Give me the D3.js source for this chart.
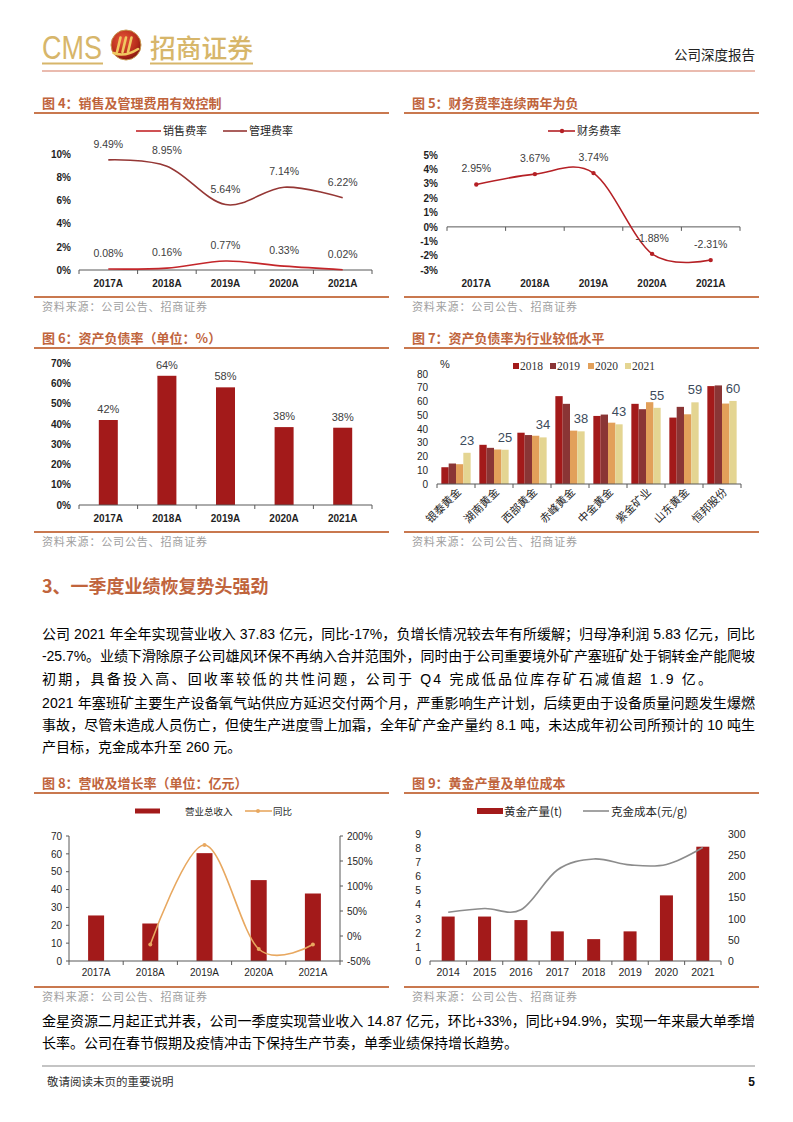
<!DOCTYPE html>
<html><head><meta charset="utf-8">
<script src="https://cdn.jsdelivr.net/npm/d3@7"></script>
<style>body{margin:0;background:#fff}svg{display:block}</style>
</head><body>
<script>
// ---------------- DATA ----------------
const years5 = ["2017A","2018A","2019A","2020A","2021A"];
const salesRate = [0.08,0.16,0.77,0.33,0.02];
const adminRate = [9.49,8.95,5.64,7.14,6.22];
const ticks4 = [0,2,4,6,8,10];

const finRate = [2.95,3.67,3.74,-1.88,-2.31];
const ticks5 = [-3,-2,-1,0,1,2,3,4,5];

const debtRatio = [41.9,63.7,58.0,38.4,38.1];
const ticks6 = [0,10,20,30,40,50,60,70];

const peers = ["银泰黄金","湖南黄金","西部黄金","赤峰黄金","中金黄金","紫金矿业","山东黄金","恒邦股份"];
const peerYears = ["2018","2019","2020","2021"];
const peer2018 = [12.2,28.5,37.3,63.9,49.5,58.3,48.3,71.2];
const peer2019 = [14.9,26.3,35.6,58.3,50.5,54.4,56.1,71.7];
const peer2020 = [14.4,25.1,35.1,38.8,44.6,59.5,50.7,58.5];
const peer2021 = [22.7,24.9,33.9,38.3,43.4,55.4,59.4,60.4];
const ticks7 = [0,10,20,30,40,50,60,70,80];

const revenue = [25.5,21.0,60.4,45.3,37.8];
const revenueYoY = [null,-17,182,-26,-17];
const ticks8L = [0,10,20,30,40,50,60,70];
const ticks8R = [-50,0,50,100,150,200];

const goldYears = ["2014","2015","2016","2017","2018","2019","2020","2021"];
const goldOutput = [3.15,3.15,2.9,2.1,1.55,2.1,4.65,8.1];
const goldCost = [115,124,121,215,241,227,228,268];
const ticks9L = [0,1,2,3,4,5,6,7,8,9];
const ticks9R = [0,50,100,150,200,250,300];

const para1 = [
  "公司 2021 年全年实现营业收入 37.83 亿元，同比-17%，负增长情况较去年有所缓解；归母净利润 5.83 亿元，同比",
  "-25.7%。业绩下滑除原子公司雄风环保不再纳入合并范围外，同时由于公司重要境外矿产塞班矿处于铜转金产能爬坡",
  "初期，具备投入高、回收率较低的共性问题，公司于 Q4 完成低品位库存矿石减值超 1.9 亿。"
];
const para2 = [
  "2021 年塞班矿主要生产设备氧气站供应方延迟交付两个月，严重影响生产计划，后续更由于设备质量问题发生爆燃",
  "事故，尽管未造成人员伤亡，但使生产进度雪上加霜，全年矿产金产量约 8.1 吨，未达成年初公司所预计的 10 吨生",
  "产目标，克金成本升至 260 元。"
];
const para3 = [
  "金星资源二月起正式并表，公司一季度实现营业收入 14.87 亿元，环比+33%，同比+94.9%，实现一年来最大单季增",
  "长率。公司在春节假期及疫情冲击下保持生产节奏，单季业绩保持增长趋势。"
];

// ---------------- SETUP ----------------
const W=793,H=1122;
const svg=d3.select("body").append("svg").attr("width",W).attr("height",H);
const LAT="'Liberation Sans', Arial, 'Noto Sans CJK SC', sans-serif";
const CJK="'Noto Sans CJK SC', 'Liberation Sans', sans-serif";
const SERIF="'Liberation Serif', 'Times New Roman', 'Noto Sans CJK SC', serif";
const TITLE_C="#c0643c", RULE_C="#c9784f", BAR_C="#a31a1a", TXT="#1f1f1f", AX="#595959";
const GOLD="#d7b66a";

function txt(g,x,y,s,o={}){
  const t=g.append("text").attr("x",x).attr("y",y).text(s)
    .attr("font-family",o.ff||LAT).attr("font-size",o.fs||10)
    .attr("fill",o.fill||TXT).attr("text-anchor",o.anchor||"start");
  if(o.fw) t.attr("font-weight",o.fw);
  if(o.tl) t.attr("textLength",o.tl).attr("lengthAdjust",o.la||"spacing");
  return t;
}
function hline(g,x1,x2,y,c,w){g.append("line").attr("x1",x1).attr("x2",x2).attr("y1",y).attr("y2",y).attr("stroke",c).attr("stroke-width",w);}
function chartFrame(x0,x1,ytitle,title,ysrc){
  txt(svg,x0+8,ytitle-5,title,{ff:CJK,fs:13,fw:700,fill:TITLE_C});
  hline(svg,x0,x1,ytitle,RULE_C,2);
  hline(svg,x0,x1,ysrc,RULE_C,2);
  txt(svg,x0+8,ysrc+13.5,"资料来源：公司公告、招商证券",{ff:CJK,fs:11,fill:"#a0a0a0",tl:165});
}
function xAxisLine(g,band,y,tick){
  const [a,b]=band.range();
  hline(g,a,b,y,AX,1);
  const bounds=band.domain().map(d=>band(d)).concat([b]);
  g.selectAll(null).data(bounds).join("line")
   .attr("x1",d=>d).attr("x2",d=>d).attr("y1",y).attr("y2",y+tick).attr("stroke",AX);
}
function xLabels(g,band,y,fs,fw){
  g.selectAll(null).data(band.domain()).join("text")
   .attr("x",d=>band(d)+band.bandwidth()/2).attr("y",y).text(d=>d)
   .attr("text-anchor","middle").attr("font-family",LAT).attr("font-size",fs)
   .attr("font-weight",fw||"normal").attr("fill",TXT);
}
function yAxis(g,scale,x,ticks,fmt,side,fs,fw){
  const ax=(side==="left"?d3.axisLeft(scale):d3.axisRight(scale)).tickValues(ticks).tickFormat(fmt).tickSize(0).tickPadding(0);
  const a=g.append("g").attr("transform",`translate(${x},0)`).call(ax);
  a.select(".domain").remove();
  a.selectAll("text").attr("font-family",LAT).attr("font-size",fs).attr("font-weight",fw||"normal").attr("fill",TXT);
}
const smooth=d3.curveCardinal.tension(0);

// ---------------- HEADER ----------------
const defs=svg.append("defs");
const rg=defs.append("radialGradient").attr("id","lg").attr("cx","40%").attr("cy","35%").attr("r","70%");
rg.append("stop").attr("offset","0%").attr("stop-color","#e8583a");
rg.append("stop").attr("offset","70%").attr("stop-color","#b52a1a");
rg.append("stop").attr("offset","100%").attr("stop-color","#7a1410");
txt(svg,42,59,"CMS",{ff:"'Liberation Sans Narrow','Liberation Sans',sans-serif",fs:33,fill:GOLD,tl:60,la:"spacingAndGlyphs"});
svg.append("circle").attr("cx",126).attr("cy",45).attr("r",15).attr("fill","url(#lg)").attr("stroke","#c89a50").attr("stroke-width",1);
svg.append("path").attr("d","M117,52 L120.5,37.5 M122.5,52 L126,37.5 M128,52 L131.5,37.5 M113.5,53 Q125,57.5 138,49")
   .attr("stroke","#f0c860").attr("stroke-width",2.6).attr("fill","none").attr("stroke-linecap","round");
txt(svg,150,58,"招商证券",{ff:CJK,fs:26,fw:500,fill:GOLD,tl:103,la:"spacingAndGlyphs"});
hline(svg,42,103,63.5,GOLD,2);
hline(svg,150,253,63.5,GOLD,2);
txt(svg,755,60,"公司深度报告",{ff:CJK,fs:13.5,fill:"#222",anchor:"end"});
hline(svg,42,755,71,"#e3a595",1.6);

// ---------------- CHART 4 ----------------
chartFrame(34,389,113,"图 4：销售及管理费用有效控制",297);
{
  const g=svg.append("g");
  const x=d3.scaleBand().domain(years5).range([79,372]);
  const y=d3.scaleLinear().domain([0,10]).range([270,154]);
  const cx=c=>x(c)+x.bandwidth()/2;
  yAxis(g,y,71,ticks4,d=>d+"%","left",10,"bold");
  xAxisLine(g,x,270,4);
  xLabels(g,x,287,10,"bold");
  const SALES="#c4262a", ADMIN="#953735";
  const line=d3.line().x((d,i)=>cx(years5[i])).y(d=>y(d)).curve(smooth);
  g.append("path").attr("d",line(adminRate)).attr("fill","none").attr("stroke",ADMIN).attr("stroke-width",1.6);
  g.append("path").attr("d",line(salesRate)).attr("fill","none").attr("stroke",SALES).attr("stroke-width",1.6);
  [adminRate,salesRate].forEach(arr=>{
    g.selectAll(null).data(arr).join("text").attr("x",(d,i)=>cx(years5[i])).attr("y",d=>y(d)-12)
     .text(d=>d.toFixed(2)+"%").attr("text-anchor","middle").attr("font-family",LAT).attr("font-size",10.5).attr("fill","#404040");
  });
  // legend
  hline(g,136,161,131,SALES,1.6); txt(g,163,135,"销售费率",{ff:CJK,fs:11});
  hline(g,223,247,131,ADMIN,1.6); txt(g,249,135,"管理费率",{ff:CJK,fs:11});
}

// ---------------- CHART 5 ----------------
chartFrame(404,759,113,"图 5：财务费率连续两年为负",297);
{
  const g=svg.append("g");
  const x=d3.scaleBand().domain(years5).range([447,740]);
  const y=d3.scaleLinear().domain([-3,5]).range([270,155]);
  const cx=c=>x(c)+x.bandwidth()/2;
  yAxis(g,y,438,ticks5,d=>d+"%","left",10,"bold");
  xAxisLine(g,x,y(0),4);
  xLabels(g,x,287,10,"bold");
  const C="#b52025";
  const line=d3.line().x((d,i)=>cx(years5[i])).y(d=>y(d)).curve(smooth);
  g.append("path").attr("d",line(finRate)).attr("fill","none").attr("stroke",C).attr("stroke-width",1.6);
  g.selectAll(null).data(finRate).join("circle").attr("cx",(d,i)=>cx(years5[i])).attr("cy",d=>y(d)).attr("r",2.2).attr("fill",C);
  g.selectAll(null).data(finRate).join("text").attr("x",(d,i)=>cx(years5[i])).attr("y",d=>y(d)-12)
   .text(d=>d.toFixed(2)+"%").attr("text-anchor","middle").attr("font-family",LAT).attr("font-size",10.5).attr("fill","#404040");
  hline(g,548,575,131,C,1.6);
  g.append("circle").attr("cx",562).attr("cy",131).attr("r",2.2).attr("fill",C);
  txt(g,577,135,"财务费率",{ff:CJK,fs:11});
}

// ---------------- CHART 6 ----------------
chartFrame(34,389,348,"图 6：资产负债率（单位：%）",532);
{
  const g=svg.append("g");
  const x=d3.scaleBand().domain(years5).range([79,372]);
  const y=d3.scaleLinear().domain([0,70]).range([505,363]);
  const cx=c=>x(c)+x.bandwidth()/2;
  yAxis(g,y,71,ticks6,d=>d+"%","left",10,"bold");
  const bw=19;
  g.selectAll(null).data(debtRatio).join("rect").attr("x",(d,i)=>cx(years5[i])-bw/2).attr("width",bw)
   .attr("y",d=>y(d)).attr("height",d=>y(0)-y(d)).attr("fill",BAR_C);
  xAxisLine(g,x,505,4);
  xLabels(g,x,522,10,"bold");
  g.selectAll(null).data(debtRatio).join("text").attr("x",(d,i)=>cx(years5[i])).attr("y",d=>y(d)-7)
   .text(d=>Math.round(d)+"%").attr("text-anchor","middle").attr("font-family",LAT).attr("font-size",11).attr("fill","#404040");
}

// ---------------- CHART 7 ----------------
chartFrame(404,759,348,"图 7：资产负债率为行业较低水平",532);
{
  const g=svg.append("g");
  const xg=d3.scaleBand().domain(peers).range([437,741]);
  const inner=29.3;
  const xi=d3.scaleBand().domain(peerYears).range([0,inner]);
  const y=d3.scaleLinear().domain([0,80]).range([484,374]);
  const colors=d3.scaleOrdinal().domain(peerYears).range(["#a31a1a","#8a3535","#e2a05a","#e4d592"]);
  const series=[peer2018,peer2019,peer2020,peer2021];
  yAxis(g,y,428,ticks7,d=>d,"left",10,"normal");
  txt(g,440,368,"%",{fs:11});
  series.forEach((arr,k)=>{
    const yr=peerYears[k];
    g.selectAll(null).data(arr).join("rect")
     .attr("x",(d,i)=>xg(peers[i])+(xg.bandwidth()-inner)/2+xi(yr)).attr("width",xi.bandwidth())
     .attr("y",d=>y(d)).attr("height",d=>y(0)-y(d)).attr("fill",colors(yr));
  });
  g.selectAll(null).data(peer2021).join("text")
   .attr("x",(d,i)=>xg(peers[i])+(xg.bandwidth()-inner)/2+xi("2021")+xi.bandwidth()/2).attr("y",d=>y(d)-8)
   .text(d=>Math.round(d)).attr("text-anchor","middle").attr("font-family",LAT).attr("font-size",13).attr("fill","#3d4b5c");
  xAxisLine(g,xg,484,4);
  g.selectAll(null).data(peers).join("text").text(d=>d)
   .attr("transform",d=>`translate(${xg(d)+xg.bandwidth()/2+3},${490}) rotate(-45)`)
   .attr("text-anchor","end").attr("dy","0.35em").attr("font-family",CJK).attr("font-size",11).attr("fill",TXT);
  const lx=[513,550,588,625];
  peerYears.forEach((yr,k)=>{
    g.append("rect").attr("x",lx[k]).attr("y",363).attr("width",6).attr("height",6).attr("fill",colors(yr));
    txt(g,lx[k]+7,370,yr,{ff:SERIF,fs:11.5,fill:"#333"});
  });
}

// ---------------- SECTION TEXT ----------------
txt(svg,42,593,"3、一季度业绩恢复势头强劲",{ff:CJK,fs:18,fw:700,fill:TITLE_C});
const PF="'Liberation Sans','Noto Sans CJK SC',sans-serif";
const p1w=[713,713,670], p1y=[639,661,684];
para1.forEach((s,i)=>txt(svg,42,p1y[i],s,{ff:PF,fs:14,fill:"#000",tl:p1w[i]}));
const p2w=[713,713,null], p2y=[708,730,752];
para2.forEach((s,i)=>txt(svg,42,p2y[i],s,{ff:PF,fs:14,fill:"#000",tl:p2w[i]||undefined}));

// ---------------- CHART 8 ----------------
chartFrame(34,389,793,"图 8：营收及增长率（单位：亿元）",987);
{
  const g=svg.append("g");
  const x=d3.scaleBand().domain(years5).range([69,340]);
  const yL=d3.scaleLinear().domain([0,70]).range([961,836]);
  const yR=d3.scaleLinear().domain([-50,200]).range([961,836]);
  const cx=c=>x(c)+x.bandwidth()/2;
  yAxis(g,yL,62,ticks8L,d=>d,"left",10,"normal");
  yAxis(g,yR,347,ticks8R,d=>d+"%","right",10,"normal");
  g.append("line").attr("x1",69).attr("x2",69).attr("y1",836).attr("y2",961).attr("stroke",AX);
  g.append("line").attr("x1",340).attr("x2",340).attr("y1",836).attr("y2",961).attr("stroke",AX);
  g.selectAll(null).data(ticks8L).join("line").attr("x1",66).attr("x2",69).attr("y1",d=>yL(d)).attr("y2",d=>yL(d)).attr("stroke",AX);
  g.selectAll(null).data(ticks8R).join("line").attr("x1",340).attr("x2",343).attr("y1",d=>yR(d)).attr("y2",d=>yR(d)).attr("stroke",AX);
  const bw=16;
  g.selectAll(null).data(revenue).join("rect").attr("x",(d,i)=>cx(years5[i])-bw/2).attr("width",bw)
   .attr("y",d=>yL(d)).attr("height",d=>yL(0)-yL(d)).attr("fill",BAR_C);
  xAxisLine(g,x,961,4);
  xLabels(g,x,976,10,"normal");
  const pts=years5.map((c,i)=>({c,v:revenueYoY[i]})).filter(d=>d.v!=null);
  const OR="#e8a860";
  g.append("path").attr("d",d3.line().x(d=>cx(d.c)).y(d=>yR(d.v)).curve(smooth)(pts)).attr("fill","none").attr("stroke",OR).attr("stroke-width",1.6);
  g.selectAll(null).data(pts).join("circle").attr("cx",d=>cx(d.c)).attr("cy",d=>yR(d.v)).attr("r",2).attr("fill",OR);
  g.append("rect").attr("x",135).attr("y",808.5).attr("width",25).attr("height",5).attr("fill",BAR_C);
  txt(g,185,815,"营业总收入",{ff:CJK,fs:9.5});
  hline(g,245,272,811,OR,1.6);
  g.append("circle").attr("cx",258).attr("cy",811).attr("r",2).attr("fill",OR);
  txt(g,273,815,"同比",{ff:CJK,fs:9.5});
}

// ---------------- CHART 9 ----------------
chartFrame(404,759,793,"图 9：黄金产量及单位成本",987);
{
  const g=svg.append("g");
  const x=d3.scaleBand().domain(goldYears).range([430,721]);
  const yL=d3.scaleLinear().domain([0,9]).range([961,834]);
  const yR=d3.scaleLinear().domain([0,300]).range([961,834]);
  const cx=c=>x(c)+x.bandwidth()/2;
  yAxis(g,yL,421,ticks9L,d=>d,"left",10.5,"normal");
  yAxis(g,yR,728,ticks9R,d=>d,"right",10.5,"normal");
  const bw=13;
  g.selectAll(null).data(goldOutput).join("rect").attr("x",(d,i)=>cx(goldYears[i])-bw/2).attr("width",bw)
   .attr("y",d=>yL(d)).attr("height",d=>yL(0)-yL(d)).attr("fill",BAR_C);
  xAxisLine(g,x,961,4);
  xLabels(g,x,976,10.5,"normal");
  const GR="#8c8c8c";
  g.append("path").attr("d",d3.line().x((d,i)=>cx(goldYears[i])).y(d=>yR(d)).curve(smooth)(goldCost))
   .attr("fill","none").attr("stroke",GR).attr("stroke-width",1.6);
  g.append("rect").attr("x",477).attr("y",808).attr("width",26).attr("height",6).attr("fill",BAR_C);
  txt(g,504,815.5,"黄金产量(t)",{ff:CJK,fs:11.5});
  hline(g,583,609,811,GR,1.6);
  txt(g,611,815.5,"克金成本(元/g)",{ff:CJK,fs:11.5});
}

// ---------------- BOTTOM TEXT / FOOTER ----------------
const p3w=[713,null], p3y=[1026,1048];
para3.forEach((s,i)=>txt(svg,42,p3y[i],s,{ff:PF,fs:14,fill:"#000",tl:p3w[i]||undefined}));
hline(svg,42,755,1066,"#c4c4c4",2);
txt(svg,47,1086,"敬请阅读末页的重要说明",{ff:CJK,fs:11.5,fill:"#333"});
txt(svg,755,1086,"5",{fs:12,fw:"bold",anchor:"end",fill:"#111"});
</script>
</body></html>
